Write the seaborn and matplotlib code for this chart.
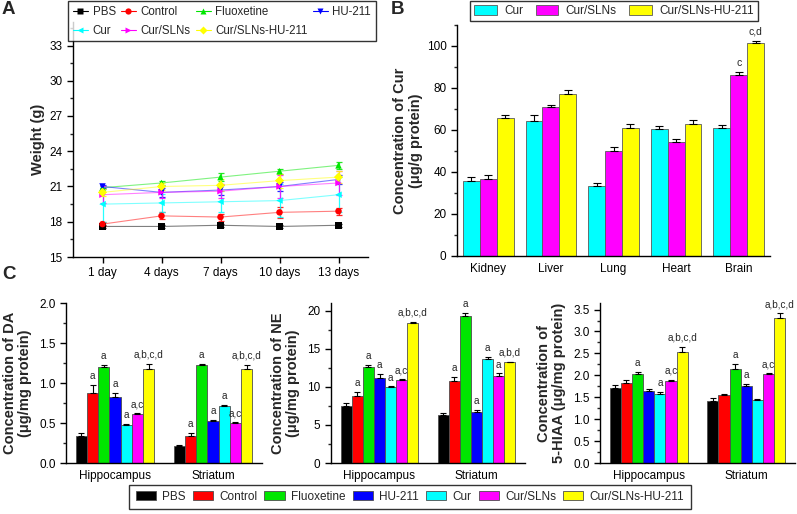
import numpy as np
import pandas as pd
import matplotlib
matplotlib.use('Agg')
import matplotlib.pyplot as plt
import seaborn as sns
from matplotlib.patches import Patch
from matplotlib.lines import Line2D
from matplotlib.ticker import AutoMinorLocator, MultipleLocator

# ---------------- data ----------------
groups = ['PBS', 'Control', 'Fluoxetine', 'HU-211', 'Cur', 'Cur/SLNs', 'Cur/SLNs-HU-211']
colors = ['#000000', '#ff0000', '#00e600', '#0000ff', '#00ffff', '#ff00ff', '#ffff00']
markers = ['s', 'o', '^', 'v', '<', '>', 'D']

days = ['1 day', '4 days', '7 days', '10 days', '13 days']
weight_pbs = [17.6, 17.6, 17.7, 17.6, 17.7]
weight_control = [17.8, 18.5, 18.4, 18.8, 18.9]
weight_fluox = [20.9, 21.3, 21.8, 22.3, 22.8]
weight_hu = [21.0, 20.5, 20.7, 21.0, 21.6]
weight_cur = [19.5, 19.6, 19.7, 19.8, 20.3]
weight_cursln = [20.3, 20.5, 20.6, 21.0, 21.3]
weight_cursln_hu = [20.5, 21.0, 21.1, 21.5, 21.8]
werr_pbs = [0.15, 0.15, 0.12, 0.12, 0.15]
werr_control = [0.15, 0.3, 0.3, 0.45, 0.3]
werr_fluox = [0.15, 0.2, 0.35, 0.2, 0.3]
werr_hu = [0.15, 0.4, 0.4, 0.4, 0.4]
werr_cur = [1.5, 0.8, 0.9, 1.4, 1.5]
werr_cursln = [0.7, 0.5, 0.6, 1.0, 1.0]
werr_cursln_hu = [0.3, 0.3, 0.5, 0.6, 0.5]

organs = ['Kidney', 'Liver', 'Lung', 'Heart', 'Brain']
formulations = ['Cur', 'Cur/SLNs', 'Cur/SLNs-HU-211']
cur_organ = [35.5, 64.2, 33.4, 60.4, 61.0]
cursln_organ = [36.6, 70.9, 50.2, 54.3, 86.3]
cursln_hu_organ = [65.8, 77.2, 61.0, 63.0, 101.3]
cur_organ_err = [2.2, 2.8, 1.2, 1.3, 1.3]
cursln_organ_err = [2.0, 1.2, 1.5, 1.5, 1.3]
cursln_hu_organ_err = [1.5, 2.0, 1.8, 1.8, 1.3]
organ_notes = {('Cur/SLNs', 'Brain'): 'c', ('Cur/SLNs-HU-211', 'Brain'): 'c,d'}

regions = ['Hippocampus', 'Striatum']
# values per group: [Hippocampus, Striatum]
da_vals = [[0.34, 0.21], [0.88, 0.34], [1.20, 1.23], [0.82, 0.53], [0.47, 0.71], [0.61, 0.50], [1.18, 1.18]]
da_errs = [[0.03, 0.01], [0.09, 0.03], [0.02, 0.01], [0.06, 0.005], [0.015, 0.02], [0.01, 0.01], [0.06, 0.05]]
da_notes = [['', ''], ['a', 'a'], ['a', 'a'], ['a', 'a'], ['a', 'a'], ['a,c', 'a,c'], ['a,b,c,d', 'a,b,c,d']]

ne_vals = [[7.5, 6.3], [8.8, 10.7], [12.55, 19.25], [11.1, 6.7], [10.0, 13.6], [10.9, 11.45], [18.4, 13.2]]
ne_errs = [[0.35, 0.3], [0.5, 0.6], [0.3, 0.5], [0.6, 0.3], [0.05, 0.3], [0.1, 0.3], [0.15, 0.1]]
ne_notes = [['', ''], ['a', 'a'], ['a', 'a'], ['a', 'a'], ['a', 'a'], ['a,c', 'a'], ['a,b,c,d', 'a,b,d']]

hiaa_vals = [[1.71, 1.41], [1.82, 1.54], [2.03, 2.15], [1.65, 1.75], [1.57, 1.44], [1.88, 2.03], [2.53, 3.30]]
hiaa_errs = [[0.07, 0.08], [0.08, 0.03], [0.04, 0.1], [0.03, 0.05], [0.05, 0.03], [0.02, 0.02], [0.12, 0.12]]
hiaa_notes = [['', ''], ['', ''], ['a', 'a'], ['', 'a'], ['a', ''], ['a,c', 'a,c'], ['a,b,c,d', 'a,b,c,d']]

# ---------------- style ----------------
sns.set_style('ticks')
plt.rcParams['font.family'] = ['Liberation Sans', 'DejaVu Sans']
plt.rcParams['axes.linewidth'] = 1.0
plt.rcParams['xtick.major.width'] = 1.0
plt.rcParams['ytick.major.width'] = 1.0
plt.rcParams['xtick.direction'] = 'out'
plt.rcParams['ytick.direction'] = 'out'

W, H = 797, 514
fig = plt.figure(figsize=(W / 100, H / 100), dpi=100)


def ax_px(l, t, r, b):
    return fig.add_axes([l / W, 1 - b / H, (r - l) / W, (b - t) / H])


TICK_FS = 8.5
LAB_FS = 10.5


def style_ax(ax):
    sns.despine(ax=ax)
    ax.tick_params(axis='both', labelsize=TICK_FS, colors='black', length=4, width=1)
    ax.tick_params(axis='y', which='minor', length=2.5, width=1)
    for s in ['left', 'bottom']:
        ax.spines[s].set_color('black')


# ---------------- Panel A ----------------
axA = ax_px(73, 22, 368, 257)
w_vals = [weight_pbs, weight_control, weight_fluox, weight_hu, weight_cur, weight_cursln, weight_cursln_hu]
w_errs = [werr_pbs, werr_control, werr_fluox, werr_hu, werr_cur, werr_cursln, werr_cursln_hu]
dfA = pd.DataFrame([(g, d, v) for g, vals in zip(groups, w_vals) for d, v in zip(days, vals)],
                   columns=['Group', 'Day', 'Weight'])
pal = dict(zip(groups, colors))
sns.lineplot(data=dfA, x='Day', y='Weight', hue='Group', palette=pal, sort=False,
             linewidth=0.8, alpha=0.5, legend=False, ax=axA)
xpos = np.arange(len(days))
for g, vals, errs, c, m in zip(groups, w_vals, w_errs, colors, markers):
    axA.errorbar(xpos, vals, yerr=errs, fmt='none', ecolor=c, elinewidth=0.9, capsize=2.5,
                 capthick=0.9, alpha=0.85, zorder=3)
sns.scatterplot(data=dfA, x='Day', y='Weight', hue='Group', style='Group', palette=pal,
                markers=dict(zip(groups, markers)), s=22, edgecolor='none', legend=False,
                ax=axA, zorder=4)
axA.set_xlim(-0.5, 4.5)
axA.set_ylim(15, 35)
axA.yaxis.set_major_locator(MultipleLocator(3))
axA.yaxis.set_minor_locator(AutoMinorLocator(2))
axA.set_xlabel('')
axA.set_ylabel('Weight (g)', fontsize=LAB_FS, fontweight='bold', labelpad=3)
style_ax(axA)
handlesA = [Line2D([0], [0], color=c, marker=m, markersize=4.5, lw=0.8, markeredgecolor='none')
            for c, m in zip(colors, markers)]
order = [0, 4, 1, 5, 2, 6, 3]
legA = fig.legend([handlesA[i] for i in order], [groups[i] for i in order], ncol=4,
                  loc='upper center', bbox_to_anchor=(222 / W, 1.0),
                  fontsize=8.3, frameon=True, fancybox=False, edgecolor='black',
                  borderpad=0.4, handlelength=1.3, handletextpad=0.4, columnspacing=0.45,
                  labelspacing=0.6, borderaxespad=0.1)
legA.get_frame().set_linewidth(1.0)

# ---------------- Panel B ----------------
axB = ax_px(457, 25, 770, 256)
b_vals = [cur_organ, cursln_organ, cursln_hu_organ]
b_errs = [cur_organ_err, cursln_organ_err, cursln_hu_organ_err]
dfB = pd.DataFrame([(f, o, v) for f, vals in zip(formulations, b_vals) for o, v in zip(organs, vals)],
                   columns=['Formulation', 'Organ', 'Conc'])
b_cols = ['#00ffff', '#ff00ff', '#ffff00']
sns.barplot(data=dfB, x='Organ', y='Conc', hue='Formulation', palette=b_cols, errorbar=None,
            saturation=1, edgecolor='0.35', linewidth=0.6, legend=False, ax=axB, width=0.81)
for f, cont, errs in zip(formulations, axB.containers, b_errs):
    for o, bar, e in zip(organs, cont, errs):
        x = bar.get_x() + bar.get_width() / 2
        y = bar.get_height()
        axB.errorbar(x, y, yerr=[[0], [e]], fmt='none', ecolor='black', elinewidth=0.8,
                     capsize=3, capthick=0.8, zorder=3)
        note = organ_notes.get((f, o))
        if note:
            axB.text(x, y + e + 2.0, note, ha='center', va='bottom', fontsize=7.5)
axB.set_xlim(-0.5, 4.5)
axB.set_ylim(0, 110)
axB.yaxis.set_major_locator(MultipleLocator(20))
axB.yaxis.set_minor_locator(AutoMinorLocator(2))
axB.set_xlabel('')
axB.set_ylabel('Concentration of Cur\n(μg/g protein)', fontsize=LAB_FS, fontweight='bold',
               labelpad=3, linespacing=1.1)
style_ax(axB)
axB.tick_params(axis='x', length=0, pad=5)
legB = fig.legend([Patch(facecolor=c, edgecolor='0.35', linewidth=0.6) for c in b_cols], formulations,
                  ncol=3, loc='upper center', bbox_to_anchor=(614 / W, 1.0),
                  fontsize=8.5, frameon=True, fancybox=False, edgecolor='black',
                  borderpad=0.35, handlelength=1.9, handleheight=0.9, handletextpad=0.6,
                  columnspacing=1.1, borderaxespad=0.1)
legB.get_frame().set_linewidth(1.0)

# ---------------- Panel C ----------------
def panel_c(ax, vals, errs, notes, ylim, step, ylabel, note_off):
    df = pd.DataFrame([(g, r, v) for g, vv in zip(groups, vals) for r, v in zip(regions, vv)],
                      columns=['Group', 'Region', 'Value'])
    sns.barplot(data=df, x='Region', y='Value', hue='Group', palette=colors, errorbar=None,
                saturation=1, edgecolor='0.3', linewidth=0.6, legend=False, ax=ax, width=0.8)
    for cont, ee, nn in zip(ax.containers, errs, notes):
        for bar, e, n in zip(cont, ee, nn):
            x = bar.get_x() + bar.get_width() / 2
            y = bar.get_height()
            ax.errorbar(x, y, yerr=[[0], [e]], fmt='none', ecolor='black', elinewidth=0.8,
                        capsize=2.2, capthick=0.8, zorder=3)
            if n:
                ax.text(x, y + e + note_off, n, ha='center', va='bottom', fontsize=7.2)
    ax.set_xlim(-0.5, 1.5)
    ax.set_ylim(*ylim)
    ax.yaxis.set_major_locator(MultipleLocator(step))
    ax.yaxis.set_minor_locator(AutoMinorLocator(2))
    ax.set_xlabel('')
    ax.set_ylabel(ylabel, fontsize=LAB_FS, fontweight='bold', labelpad=5, linespacing=1.1)
    style_ax(ax)
    ax.tick_params(axis='x', length=0, pad=5)


axC1 = ax_px(66, 303, 262, 463)
panel_c(axC1, da_vals, da_errs, da_notes, (0, 2.0), 0.5,
        'Concentration of DA\n(μg/mg protein)', 0.05)
axC2 = ax_px(331, 303, 525, 463)
panel_c(axC2, ne_vals, ne_errs, ne_notes, (0, 21), 5,
        'Concentration of NE\n(μg/mg protein)', 0.5)
axC3 = ax_px(600, 303, 795, 463)
panel_c(axC3, hiaa_vals, hiaa_errs, hiaa_notes, (0, 3.65), 0.5,
        'Concentration of\n5-HIAA (μg/mg protein)', 0.09)

legC = fig.legend([Patch(facecolor=c, edgecolor='0.3', linewidth=0.6) for c in colors], groups,
                  ncol=7, loc='center', bbox_to_anchor=(410 / W, 1 - 497 / H),
                  fontsize=8.5, frameon=True, fancybox=False, edgecolor='black',
                  borderpad=0.55, handlelength=1.7, handleheight=0.8, handletextpad=0.55,
                  columnspacing=0.6)
legC.get_frame().set_linewidth(1.0)

# panel letters
for lab, x, y in [('A', 2, 1), ('B', 391, 1), ('C', 2, 266)]:
    fig.text(x / W, 1 - y / H, lab, fontsize=13.5, fontweight='bold', va='top', ha='left')

fig.savefig('out.png', dpi=100)
